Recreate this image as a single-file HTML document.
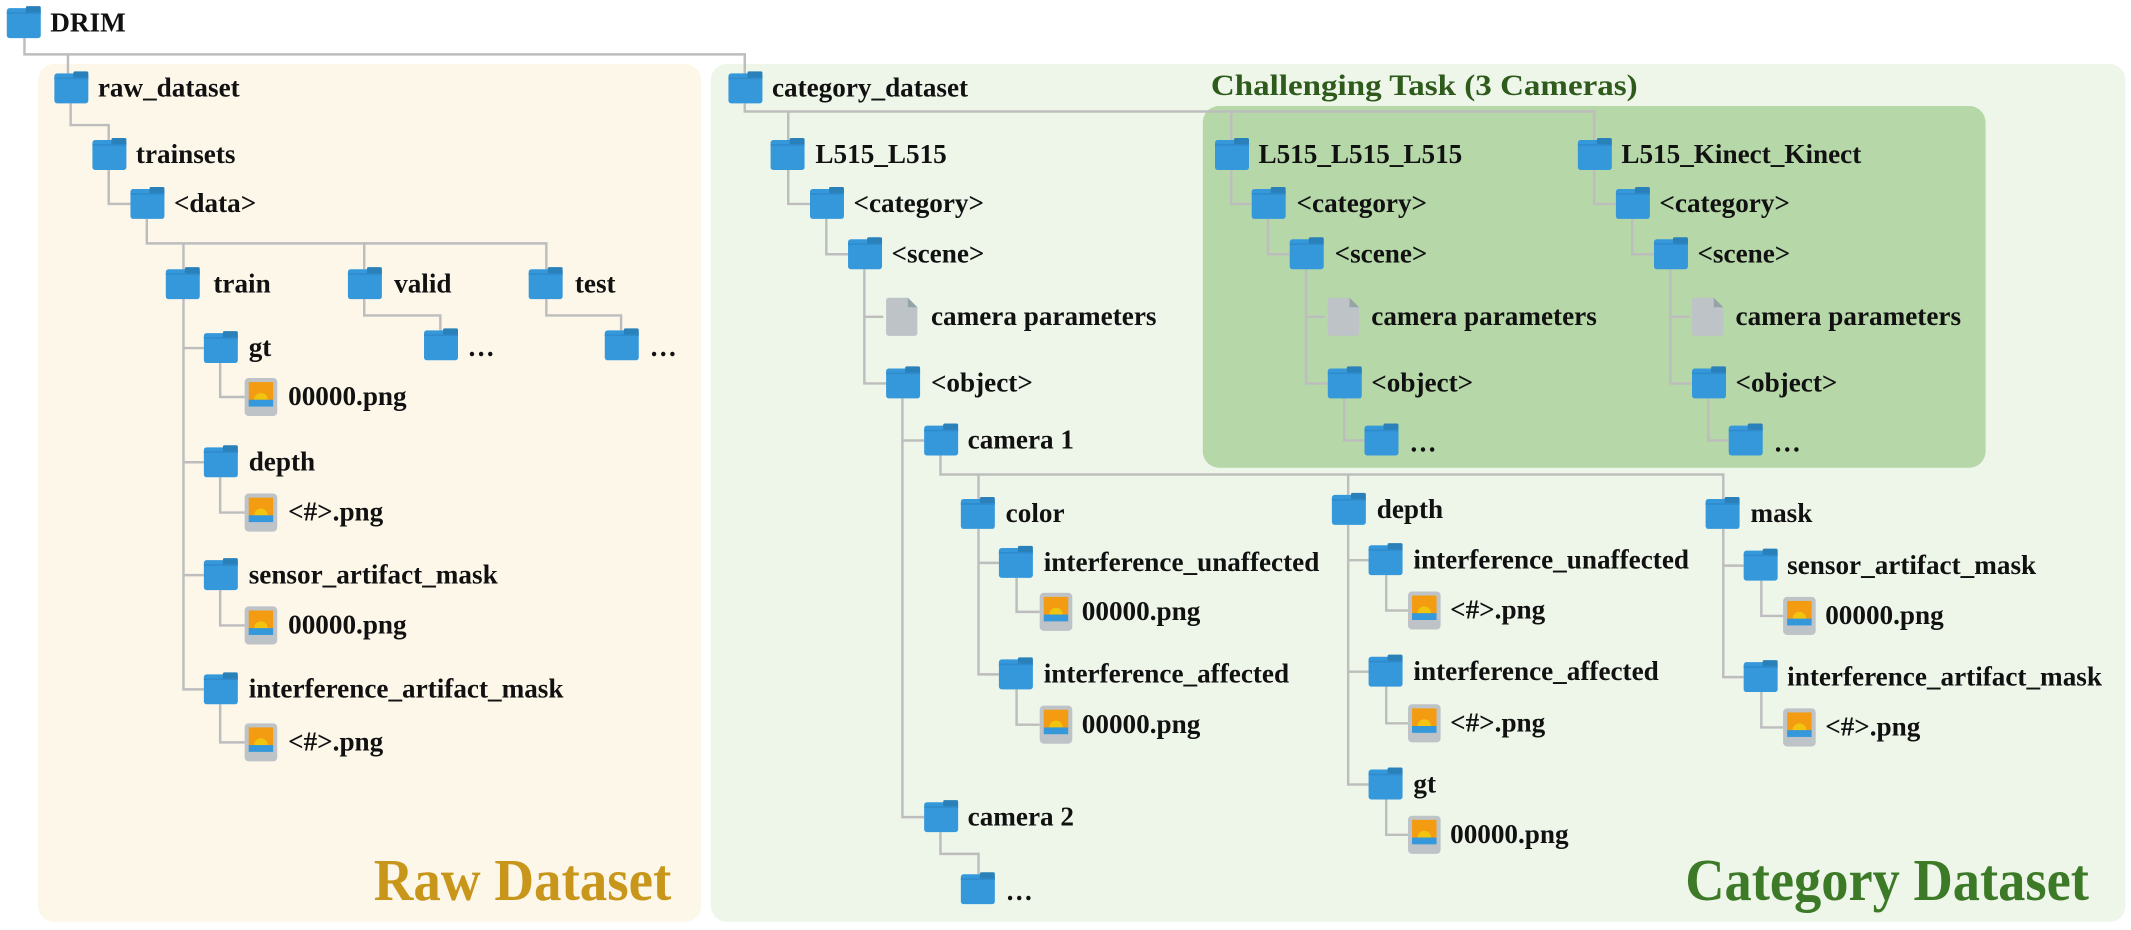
<!DOCTYPE html>
<html><head><meta charset="utf-8"><style>
html,body{margin:0;padding:0;background:#fff;}
svg{display:block;}
text{font-family:"Liberation Serif",serif;font-weight:bold;font-size:20px;fill:#111;}
.l{fill:none;stroke:#bdbdbd;stroke-width:1.8;}
</style></head><body>
<svg width="2131" height="930" viewBox="0 0 1568 684" preserveAspectRatio="none" xmlns="http://www.w3.org/2000/svg">
<defs>
<g id="f"><rect x="0" y="-11" width="25" height="22" rx="2" fill="#3498db"/><rect x="14" y="-12.5" width="11" height="5" rx="1.2" fill="#2a80b9"/><rect x="0" y="-8" width="25" height="1.2" fill="#2f8bcc"/></g>
<g id="i"><rect x="0" y="-14" width="24" height="28" rx="3" fill="#bdc3c7"/><rect x="3" y="-11" width="18" height="14" fill="#f39c12"/><path d="M7 2 a5 5 0 0 1 10 0 z" fill="#f1c40f"/><rect x="3" y="2" width="18" height="5" fill="#3498db"/></g>
<g id="d"><path d="M2 -14 H16 L23 -7 V12 a2 2 0 0 1 -2 2 H2 a2 2 0 0 1 -2 -2 V-12 a2 2 0 0 1 2 -2z" fill="#bdc3c7"/><path d="M16 -14 L23 -7 H16z" fill="#95a5a6"/></g>
</defs>
<rect x="28" y="47" width="488" height="631" rx="12" fill="#fdf7ea"/>
<rect x="523" y="47" width="1041" height="631" rx="12" fill="#eef6ea"/>
<rect x="885" y="78" width="576" height="266" rx="12" fill="#b6d7a8"/>
<g class="l">
<path d="M18 28V40H548V55M50 40V55"/>
<path d="M52 76V92H80V104M80 125V150H96M108 161V179H402V198M135 179V198M268 179V198"/>
<path d="M268 220V232H324V243M402 220V232H457V243"/>
<path d="M135 220V507H150M135 256H150M135 340H150M135 423H150"/>
<path d="M162 267V292H180M162 351V377H180M162 434V460H180M162 518V546H180"/>
<path d="M548 76V82H1173V103M580 82V103M906 82V103"/>
<path d="M580 125V150H596M608 161V187H624M636 198V282H652M636 233H650"/>
<path d="M664 293V601H680M664 324H680M692 612V628H720V643"/>
<path d="M692 335V349H1268V367M720 349V367M992 349V364"/>
<path d="M720 389V496H735M720 414H735M748 425V450H765M748 507V533H765"/>
<path d="M992 386V577H1007M992 412H1007M992 494H1007M1020 423V449H1036M1020 505V532H1036M1020 588V614H1036"/>
<path d="M1268 389V498H1283M1268 416H1283M1296 427V453H1312M1296 509V535H1312"/>
<path d="M906 125V150H921M933 161V187H949M961 198V282H977M961 233H975M989 293V324H1004"/>
<path d="M1173 125V150H1189M1201 161V187H1217M1229 198V282H1245M1229 233H1243M1257 293V324H1272"/>
</g>
<use href="#f" x="5" y="17"/><text x="37" y="23">DRIM</text>
<use href="#f" x="40" y="65"/><text x="72" y="71">raw_dataset</text>
<use href="#f" x="68" y="114"/><text x="100" y="120">trainsets</text>
<use href="#f" x="96" y="150"/><text x="128" y="156">&lt;data&gt;</text>
<use href="#f" x="122" y="209"/><text x="157" y="215">train</text>
<use href="#f" x="256" y="209"/><text x="290" y="215">valid</text>
<use href="#f" x="389" y="209"/><text x="423" y="215">test</text>
<use href="#f" x="312" y="254"/><text x="344" y="262">…</text>
<use href="#f" x="445" y="254"/><text x="478" y="262">…</text>
<use href="#f" x="150" y="256"/><text x="183" y="262">gt</text>
<use href="#i" x="180" y="292"/><text x="212" y="298">00000.png</text>
<use href="#f" x="150" y="340"/><text x="183" y="346">depth</text>
<use href="#i" x="180" y="377"/><text x="212" y="383">&lt;#&gt;.png</text>
<use href="#f" x="150" y="423"/><text x="183" y="429">sensor_artifact_mask</text>
<use href="#i" x="180" y="460"/><text x="212" y="466">00000.png</text>
<use href="#f" x="150" y="507"/><text x="183" y="513">interference_artifact_mask</text>
<use href="#i" x="180" y="546"/><text x="212" y="552">&lt;#&gt;.png</text>

<use href="#f" x="536" y="65"/><text x="568" y="71">category_dataset</text>
<use href="#f" x="567" y="114"/><text x="600" y="120">L515_L515</text>
<use href="#f" x="596" y="150"/><text x="628" y="156">&lt;category&gt;</text>
<use href="#f" x="624" y="187"/><text x="656" y="193">&lt;scene&gt;</text>
<use href="#d" x="652" y="233"/><text x="685" y="239">camera parameters</text>
<use href="#f" x="652" y="282"/><text x="685" y="288">&lt;object&gt;</text>
<use href="#f" x="680" y="324"/><text x="712" y="330">camera 1</text>
<use href="#f" x="680" y="601"/><text x="712" y="607">camera 2</text>
<use href="#f" x="707" y="654"/><text x="740" y="662">…</text>
<use href="#f" x="707" y="378"/><text x="740" y="384">color</text>
<use href="#f" x="735" y="414"/><text x="768" y="420">interference_unaffected</text>
<use href="#i" x="765" y="450"/><text x="796" y="456">00000.png</text>
<use href="#f" x="735" y="496"/><text x="768" y="502">interference_affected</text>
<use href="#i" x="765" y="533"/><text x="796" y="539">00000.png</text>
<use href="#f" x="980" y="375"/><text x="1013" y="381">depth</text>
<use href="#f" x="1007" y="412"/><text x="1040" y="418">interference_unaffected</text>
<use href="#i" x="1036" y="449"/><text x="1067" y="455">&lt;#&gt;.png</text>
<use href="#f" x="1007" y="494"/><text x="1040" y="500">interference_affected</text>
<use href="#i" x="1036" y="532"/><text x="1067" y="538">&lt;#&gt;.png</text>
<use href="#f" x="1007" y="577"/><text x="1040" y="583">gt</text>
<use href="#i" x="1036" y="614"/><text x="1067" y="620">00000.png</text>
<use href="#f" x="1255" y="378"/><text x="1288" y="384">mask</text>
<use href="#f" x="1283" y="416"/><text x="1315" y="422">sensor_artifact_mask</text>
<use href="#i" x="1312" y="453"/><text x="1343" y="459">00000.png</text>
<use href="#f" x="1283" y="498"/><text x="1315" y="504">interference_artifact_mask</text>
<use href="#i" x="1312" y="535"/><text x="1343" y="541">&lt;#&gt;.png</text>

<use href="#f" x="894" y="114"/><text x="926" y="120">L515_L515_L515</text>
<use href="#f" x="921" y="150"/><text x="954" y="156">&lt;category&gt;</text>
<use href="#f" x="949" y="187"/><text x="982" y="193">&lt;scene&gt;</text>
<use href="#d" x="977" y="233"/><text x="1009" y="239">camera parameters</text>
<use href="#f" x="977" y="282"/><text x="1009" y="288">&lt;object&gt;</text>
<use href="#f" x="1004" y="324"/><text x="1037" y="332">…</text>
<use href="#f" x="1161" y="114"/><text x="1193" y="120">L515_Kinect_Kinect</text>
<use href="#f" x="1189" y="150"/><text x="1221" y="156">&lt;category&gt;</text>
<use href="#f" x="1217" y="187"/><text x="1249" y="193">&lt;scene&gt;</text>
<use href="#d" x="1245" y="233"/><text x="1277" y="239">camera parameters</text>
<use href="#f" x="1245" y="282"/><text x="1277" y="288">&lt;object&gt;</text>
<use href="#f" x="1272" y="324"/><text x="1305" y="332">…</text>

<text x="891" y="70" style="font-size:22px;fill:#2e5a1c" textLength="314" lengthAdjust="spacingAndGlyphs">Challenging Task (3 Cameras)</text>
<text x="275" y="662" style="font-size:44px;fill:#c8961a" textLength="219" lengthAdjust="spacingAndGlyphs">Raw Dataset</text>
<text x="1240" y="662" style="font-size:44px;fill:#3d7a27" textLength="297" lengthAdjust="spacingAndGlyphs">Category Dataset</text>
</svg>
</body></html>
